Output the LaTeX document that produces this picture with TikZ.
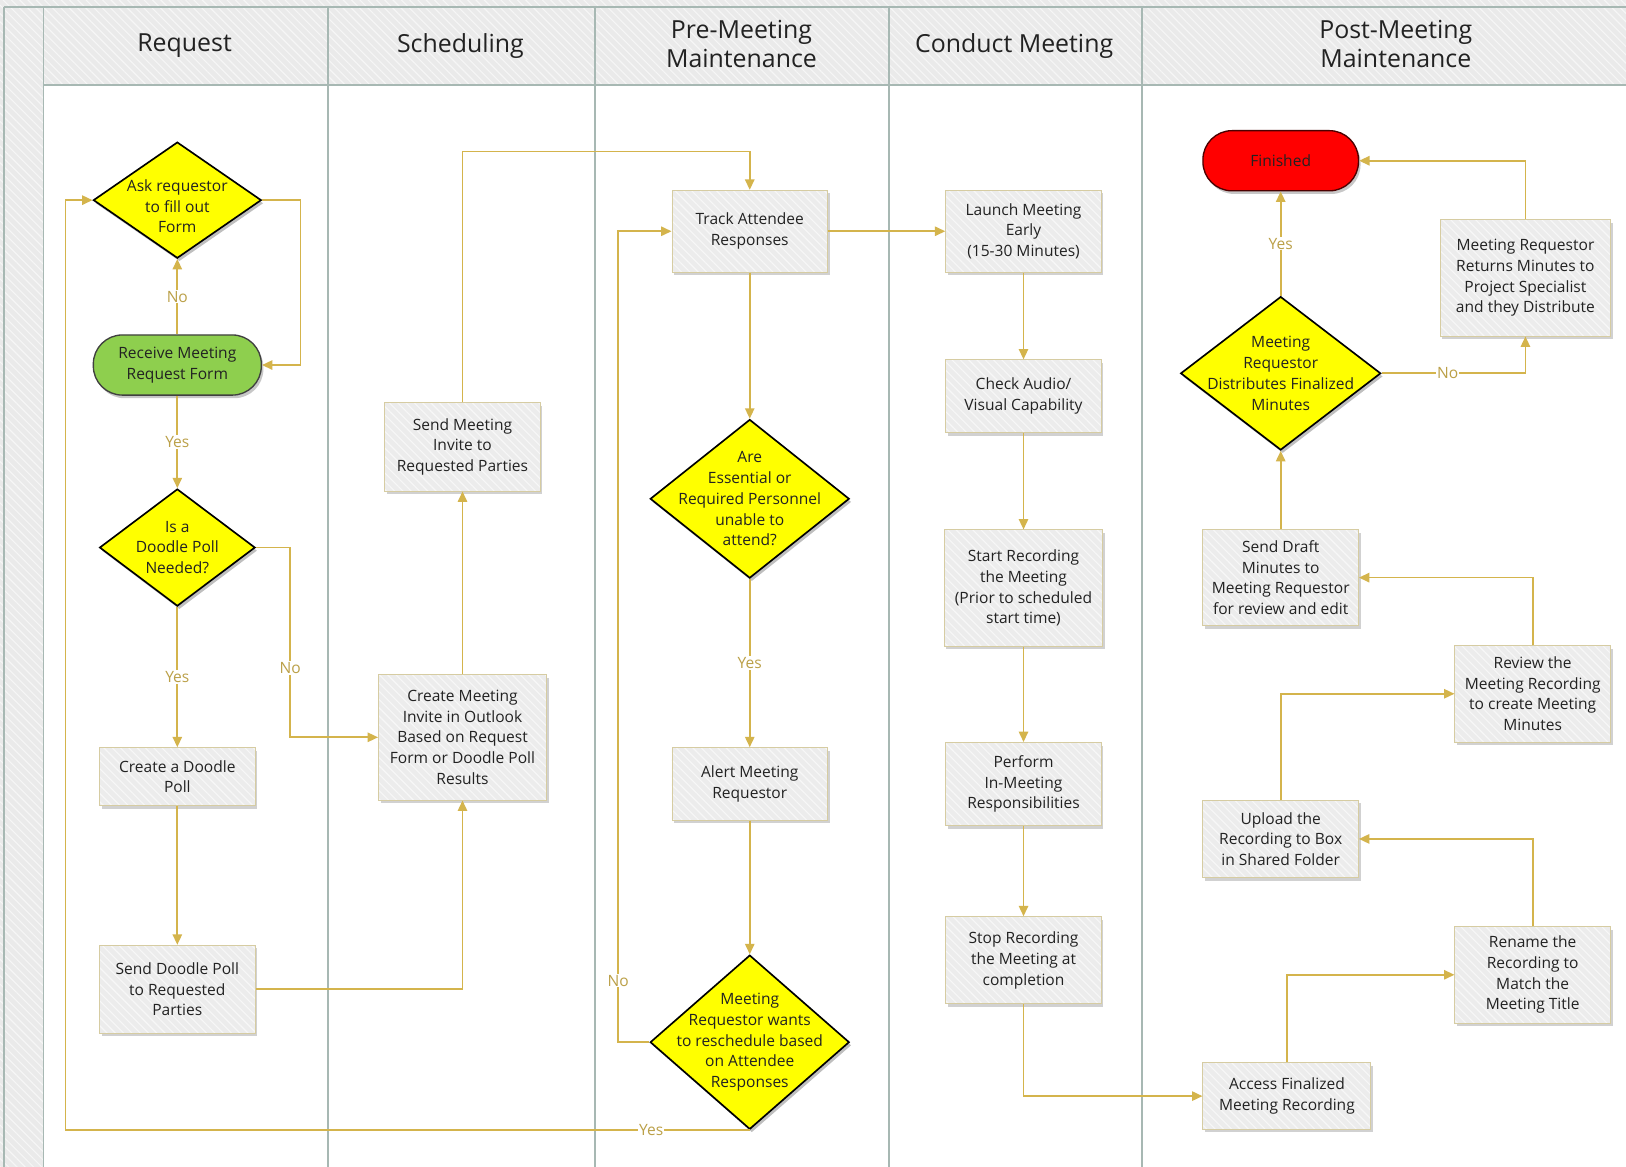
\documentclass[tikz,border=0pt]{standalone}
\usepackage{fontspec}
\setmainfont{Open Sans}
\usetikzlibrary{shapes.geometric, arrows.meta, shadows, patterns.meta}

\definecolor{cLane}{HTML}{A7B8B3}
\definecolor{cHead}{HTML}{EAEAEA}
\definecolor{cBox}{HTML}{ECECEC}
\definecolor{cBoxLine}{HTML}{D6CCA2}
\definecolor{cConn}{HTML}{D4B44C}
\definecolor{cLbl}{HTML}{BBA048}
\definecolor{cYel}{HTML}{FFFF00}
\definecolor{cGreen}{HTML}{8ECF4E}
\definecolor{cRed}{HTML}{FF0000}
\definecolor{cText}{HTML}{222222}

\tikzdeclarepattern{
  name=hatchnw,
  bounding box={(-0.5pt,-0.5pt) and (8.5pt,8.5pt)},
  tile size={(8pt,8pt)},
  code={\draw[line width=1.1pt] (0pt,8pt) -- (8pt,0pt);}
}

\newcommand\ntext{\fontsize{15}{20}\selectfont}
\newcommand\htext{\fontsize{24}{28}\selectfont}

\begin{document}
\begin{tikzpicture}[x=1pt,y=-1pt,
  lane/.style={draw=cLane, line width=1.6pt},
  htitle/.style={font=\htext, text=cText, align=center},
  box/.style={rectangle, draw=cBoxLine, line width=0.9pt,
    drop shadow={shadow xshift=2pt, shadow yshift=-3pt, opacity=0.18, fill=black},
    preaction={fill=cBox}, pattern=hatchnw, pattern color=white!60!cBox,
    align=center, inner sep=2pt, font=\ntext, text=cText},
  dia/.style={diamond, draw=black, line width=1.6pt, fill=cYel, inner sep=0pt,
    drop shadow={shadow xshift=2pt, shadow yshift=-3pt, opacity=0.25, fill=black}},
  dtext/.style={font=\ntext, text=cText, align=center, inner sep=0pt},
  term/.style={rectangle, rounded corners=28pt, line width=1.3pt,
    minimum height=58pt, align=center, font=\ntext, text=cText,
    drop shadow={shadow xshift=2pt, shadow yshift=-3pt, opacity=0.22, fill=black}},
  conn/.style={draw=cConn, line width=1.6pt, -{Triangle[length=10pt,width=9pt]}},
  lbl/.style={fill=white, text=cLbl, font=\ntext, inner sep=1pt}
]
\useasboundingbox (0,0) rectangle (1568,1125);

% pool background
\fill[cHead] (0,0) rectangle (1568,1125);
\path[pattern=hatchnw, pattern color=white!55!cHead] (0,0) rectangle (1568,1125);
\fill[white] (42,82) rectangle (1568,1125);

% lane lines
\draw[lane] (4,7) -- (1568,7);
\draw[lane] (42,82) -- (1568,82);
\draw[lane] (4,7) -- (4,1125);
\foreach \xx in {42,316,574,857,1101} { \draw[lane] (\xx,7) -- (\xx,1125); }

% headers
\node[htitle] (hReq) at (178,44) {Request};
\node[htitle] (hSch) at (444,44) {Scheduling};
\node[htitle] (hPre) at (715,42) {Pre-Meeting\\Maintenance};
\node[htitle] (hCon) at (978,44) {Conduct Meeting};
\node[htitle] (hPost) at (1346,42) {Post-Meeting\\Maintenance};

% Request lane
\node[dia, minimum width=162pt, minimum height=112pt,
  label={[dtext, yshift=-6pt]center:{Ask requestor\\to fill out\\Form}}] (ask) at (171,193) {};
\node[term, draw=black!75, fill=cGreen, minimum width=162pt] (recv) at (171,352) {Receive Meeting\\Request Form};
\node[dia, minimum width=150pt, minimum height=113pt,
  label={[dtext]center:{Is a\\Doodle Poll\\Needed?}}] (isdp) at (171,528) {};
\node[box, minimum width=150pt, minimum height=56pt] (cdp) at (171,749) {Create a Doodle\\Poll};
\node[box, minimum width=150pt, minimum height=85pt] (sdp) at (171,954) {Send Doodle Poll\\to Requested\\Parties};

% Scheduling lane
\node[box, minimum width=150pt, minimum height=85pt] (smi) at (446,431) {Send Meeting\\Invite to\\Requested Parties};
\node[box, minimum width=162pt, minimum height=121pt] (cmi) at (446,711) {Create Meeting\\Invite in Outlook\\Based on Request\\Form or Doodle Poll\\Results};

% Pre-Meeting lane
\node[box, minimum width=150pt, minimum height=79pt] (track) at (723,223) {Track Attendee\\Responses};
\node[dia, minimum width=192pt, minimum height=153pt,
  label={[dtext]center:{Are\\Essential or\\Required Personnel\\unable to\\attend?}}] (are) at (723,481) {};
\node[box, minimum width=150pt, minimum height=70pt] (alert) at (723,756) {Alert Meeting\\Requestor};
\node[dia, minimum width=192pt, minimum height=168pt,
  label={[dtext]center:{Meeting\\Requestor wants\\to reschedule based\\on Attendee\\Responses}}] (mwr) at (723,1005) {};

% Conduct Meeting lane
\node[box, minimum width=150pt, minimum height=79pt] (launch) at (987,223) {Launch Meeting\\Early\\(15-30 Minutes)};
\node[box, minimum width=150pt, minimum height=70pt] (check) at (987,382) {Check Audio/\\Visual Capability};
\node[box, minimum width=153pt, minimum height=112pt] (start) at (987,567) {Start Recording\\the Meeting\\(Prior to scheduled\\start time)};
\node[box, minimum width=150pt, minimum height=80pt] (perf) at (987,756) {Perform\\In-Meeting\\Responsibilities};
\node[box, minimum width=150pt, minimum height=84pt] (stop) at (987,926) {Stop Recording\\the Meeting at\\completion};

% Post-Meeting lane
\node[term, draw=black!70!red, fill=cRed, minimum width=150pt] (fin) at (1235,155) {Finished};
\node[dia, minimum width=193pt, minimum height=148pt,
  label={[dtext]center:{Meeting\\Requestor\\Distributes Finalized\\Minutes}}] (dmin) at (1235,360) {};
\node[box, minimum width=164pt, minimum height=112pt] (ret) at (1471,268) {Meeting Requestor\\Returns Minutes to\\Project Specialist\\and they Distribute};
\node[box, minimum width=150pt, minimum height=93pt] (draft) at (1235,557) {Send Draft\\Minutes to\\Meeting Requestor\\for review and edit};
\node[box, minimum width=150pt, minimum height=93pt] (rev) at (1478,669) {Review the\\Meeting Recording\\to create Meeting\\Minutes};
\node[box, minimum width=150pt, minimum height=75pt] (upl) at (1235,809) {Upload the\\Recording to Box\\in Shared Folder};
\node[box, minimum width=150pt, minimum height=93pt] (ren) at (1478,940) {Rename the\\Recording to\\Match the\\Meeting Title};
\node[box, minimum width=162pt, minimum height=64pt] (acc) at (1241,1057) {Access Finalized\\Meeting Recording};

% connectors: Request lane
\draw[conn] (recv.north) -- node[lbl] (l1) {No} (ask.south);
\draw[conn] (ask.east) -- ++(37,0) |- (recv.east);
\draw[conn] (recv.south) -- node[lbl] (l2) {Yes} (isdp.north);
\draw[conn] (isdp.south) -- node[lbl] (l3) {Yes} (cdp.north);
\draw[conn] (isdp.east) -- ++(33,0) |- node[lbl, pos=0.317] (l4) {No} (cmi.west);
\draw[conn] (cdp.south) -- (sdp.north);
\draw[conn] (sdp.east) -| (cmi.south);

% Scheduling
\draw[conn] (cmi.north) -- (smi.south);
\draw[conn] (smi.north) -- ++(0,-242) -| (track.north);

% Pre-Meeting
\draw[conn] (track.south) -- (are.north);
\draw[conn] (are.south) -- node[lbl] (l5) {Yes} (alert.north);
\draw[conn] (alert.south) -- (mwr.north);
\draw[conn] (mwr.west) -- ++(-30,0) |- node[lbl, pos=0.038] (l6) {No} (track.west);
\draw[conn] (mwr.south) -- node[lbl, pos=0.144] (l7) {Yes} ++(-660,0) |- (ask.west);
\draw[conn] (track.east) -- (launch.west);

% Conduct Meeting
\draw[conn] (launch.south) -- (check.north);
\draw[conn] (check.south) -- (start.north);
\draw[conn] (start.south) -- (perf.north);
\draw[conn] (perf.south) -- (stop.north);
\draw[conn] (stop.south) |- (acc.west);

% Post-Meeting
\draw[conn] (acc.north) |- (ren.west);
\draw[conn] (ren.north) |- (upl.east);
\draw[conn] (upl.north) |- (rev.west);
\draw[conn] (rev.north) |- (draft.east);
\draw[conn] (draft.north) -- (dmin.south);
\draw[conn] (dmin.north) -- node[lbl] (l8) {Yes} (fin.south);
\draw[conn] (dmin.east) -| node[lbl, pos=0.23] (l9) {No} (ret.south);
\draw[conn] (ret.north) |- (fin.east);
\end{tikzpicture}
\end{document}
